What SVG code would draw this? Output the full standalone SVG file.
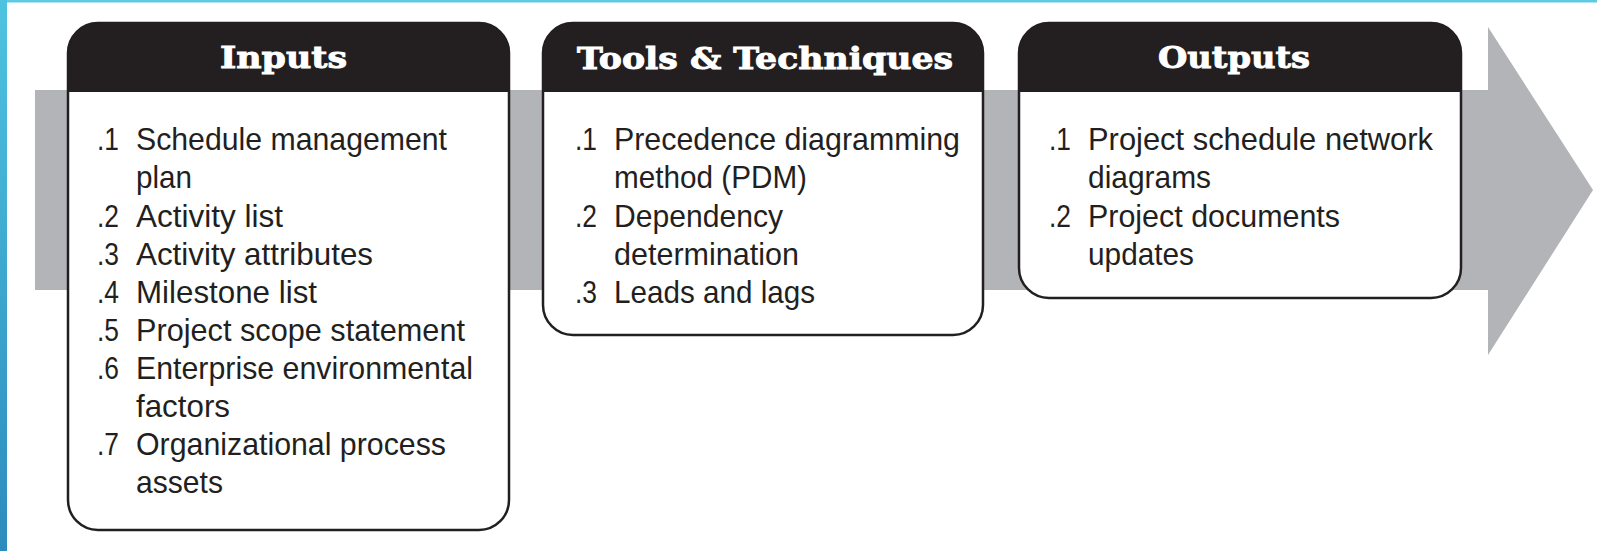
<svg xmlns="http://www.w3.org/2000/svg" width="1597" height="551" viewBox="0 0 1597 551">
  <defs>
    <linearGradient id="edge" x1="0" y1="0" x2="0" y2="1">
      <stop offset="0" stop-color="#4ec3e0"/>
      <stop offset="1" stop-color="#2c8cbd"/>
    </linearGradient>
    <style>
      .band { fill: #b3b4b7; }
      .box { fill: #ffffff; stroke: #231f20; stroke-width: 2.5; }
      .head { fill: #231f20; }
      .title { font-family: "DejaVu Serif", "Liberation Serif", serif; font-weight: bold; font-size: 30px; fill: #ffffff; stroke: #ffffff; stroke-width: 0.9; }
      .item { font-family: "Liberation Sans Narrow", "Liberation Sans", Arial, sans-serif; font-size: 32px; fill: #231f20; }
    </style>
  </defs>
  <rect x="0" y="0" width="1597" height="551" fill="#ffffff"/>
  <rect x="0" y="0" width="1597" height="2.5" fill="#5ec9e3"/>
  <rect x="0" y="0" width="7" height="551" fill="url(#edge)"/>

  <g id="arrow">
    <rect class="band" x="35" y="90" width="1454" height="200"/>
    <polygon class="band" points="1488,27 1593,190 1488,355"/>
  </g>

  <g id="connectors"></g>

  <g id="inputs">
    <path class="box" d="M68,53 A30,30 0 0 1 98,23 H479 A30,30 0 0 1 509,53 V500 A30,30 0 0 1 479,530 H98 A30,30 0 0 1 68,500 Z"/>
    <path class="head" d="M68,53 A30,30 0 0 1 98,23 H479 A30,30 0 0 1 509,53 V92 H68 Z"/>
    <text class="title" x="220" y="68" textLength="127" lengthAdjust="spacingAndGlyphs">Inputs</text>
    <text class="item" x="97" y="150" textLength="22" lengthAdjust="spacingAndGlyphs">.1</text>
    <text class="item" x="136" y="150" textLength="311" lengthAdjust="spacingAndGlyphs">Schedule management</text>
    <text class="item" x="136" y="188" textLength="56" lengthAdjust="spacingAndGlyphs">plan</text>
    <text class="item" x="97" y="227" textLength="22" lengthAdjust="spacingAndGlyphs">.2</text>
    <text class="item" x="136" y="227" textLength="147" lengthAdjust="spacingAndGlyphs">Activity list</text>
    <text class="item" x="97" y="265" textLength="22" lengthAdjust="spacingAndGlyphs">.3</text>
    <text class="item" x="136" y="265" textLength="237" lengthAdjust="spacingAndGlyphs">Activity attributes</text>
    <text class="item" x="97" y="303" textLength="22" lengthAdjust="spacingAndGlyphs">.4</text>
    <text class="item" x="136" y="303" textLength="181" lengthAdjust="spacingAndGlyphs">Milestone list</text>
    <text class="item" x="97" y="341" textLength="22" lengthAdjust="spacingAndGlyphs">.5</text>
    <text class="item" x="136" y="341" textLength="329" lengthAdjust="spacingAndGlyphs">Project scope statement</text>
    <text class="item" x="97" y="379" textLength="22" lengthAdjust="spacingAndGlyphs">.6</text>
    <text class="item" x="136" y="379" textLength="337" lengthAdjust="spacingAndGlyphs">Enterprise environmental</text>
    <text class="item" x="136" y="417" textLength="94" lengthAdjust="spacingAndGlyphs">factors</text>
    <text class="item" x="97" y="455" textLength="22" lengthAdjust="spacingAndGlyphs">.7</text>
    <text class="item" x="136" y="455" textLength="310" lengthAdjust="spacingAndGlyphs">Organizational process</text>
    <text class="item" x="136" y="493" textLength="87" lengthAdjust="spacingAndGlyphs">assets</text>
  </g>

  <g id="tools">
    <path class="box" d="M543,53 A30,30 0 0 1 573,23 H953 A30,30 0 0 1 983,53 V305 A30,30 0 0 1 953,335 H573 A30,30 0 0 1 543,305 Z"/>
    <path class="head" d="M543,53 A30,30 0 0 1 573,23 H953 A30,30 0 0 1 983,53 V92 H543 Z"/>
    <text class="title" x="577" y="69" textLength="376" lengthAdjust="spacingAndGlyphs">Tools &amp; Techniques</text>
    <text class="item" x="575" y="150" textLength="22" lengthAdjust="spacingAndGlyphs">.1</text>
    <text class="item" x="614" y="150" textLength="346" lengthAdjust="spacingAndGlyphs">Precedence diagramming</text>
    <text class="item" x="614" y="188" textLength="193" lengthAdjust="spacingAndGlyphs">method (PDM)</text>
    <text class="item" x="575" y="227" textLength="22" lengthAdjust="spacingAndGlyphs">.2</text>
    <text class="item" x="614" y="227" textLength="169" lengthAdjust="spacingAndGlyphs">Dependency</text>
    <text class="item" x="614" y="265" textLength="185" lengthAdjust="spacingAndGlyphs">determination</text>
    <text class="item" x="575" y="303" textLength="22" lengthAdjust="spacingAndGlyphs">.3</text>
    <text class="item" x="614" y="303" textLength="201" lengthAdjust="spacingAndGlyphs">Leads and lags</text>
  </g>

  <g id="outputs">
    <path class="box" d="M1019,53 A30,30 0 0 1 1049,23 H1431 A30,30 0 0 1 1461,53 V268 A30,30 0 0 1 1431,298 H1049 A30,30 0 0 1 1019,268 Z"/>
    <path class="head" d="M1019,53 A30,30 0 0 1 1049,23 H1431 A30,30 0 0 1 1461,53 V92 H1019 Z"/>
    <text class="title" x="1158" y="68" textLength="152" lengthAdjust="spacingAndGlyphs">Outputs</text>
    <text class="item" x="1049" y="150" textLength="22" lengthAdjust="spacingAndGlyphs">.1</text>
    <text class="item" x="1088" y="150" textLength="345" lengthAdjust="spacingAndGlyphs">Project schedule network</text>
    <text class="item" x="1088" y="188" textLength="123" lengthAdjust="spacingAndGlyphs">diagrams</text>
    <text class="item" x="1049" y="227" textLength="22" lengthAdjust="spacingAndGlyphs">.2</text>
    <text class="item" x="1088" y="227" textLength="252" lengthAdjust="spacingAndGlyphs">Project documents</text>
    <text class="item" x="1088" y="265" textLength="106" lengthAdjust="spacingAndGlyphs">updates</text>
  </g>
</svg>
